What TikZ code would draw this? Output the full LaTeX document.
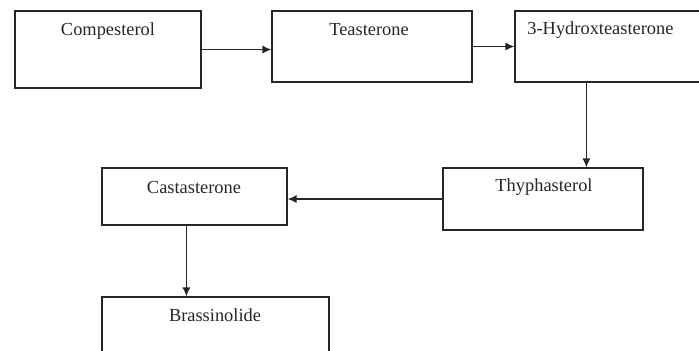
\documentclass[tikz,border=0pt]{standalone}
\usepackage{fontspec}
\setmainfont{Liberation Serif}
\usetikzlibrary{arrows.meta}
\usetikzlibrary{calc}

\tikzset{
  stepbox/.style={draw=black!85,line width=0.6pt,rectangle,inner sep=0pt},
  steptext/.style={font=\fontsize{9.2}{11}\selectfont,text=black!85,inner sep=0pt},
  arr/.style={draw=black!85,line width=0.6pt,-{Latex[length=4.5pt,width=4pt]}}
}

\begin{document}
\begin{tikzpicture}[x=0.5pt,y=-0.5pt]
\useasboundingbox (0,0) rectangle (699,350);
\clip (0,0) rectangle (699,350);

% boxes
\node[stepbox,minimum width=93pt,minimum height=38.5pt] (comp) at (108,49.5) {};
\node[stepbox,minimum width=100pt,minimum height=35.5pt] (teas) at (372,46.5) {};
\node[stepbox,minimum width=102.5pt,minimum height=35.5pt] (hydr) at (617.5,46.5) {};
\node[stepbox,minimum width=100pt,minimum height=31pt] (thyp) at (543,199) {};
\node[stepbox,minimum width=92.5pt,minimum height=28.5pt] (cast) at (194.5,196.5) {};
\node[stepbox,minimum width=113.5pt,minimum height=36.5pt] (bras) at (215.5,333.5) {};

% labels
\node[steptext] (comp-t) at (108,31) {Compesterol};
\node[steptext] (teas-t) at (369,30) {Teasterone};
\node[steptext,anchor=west] (hydr-t) at (527,30) {3-Hydroxteasterone};
\node[steptext] (thyp-t) at (544,187) {Thyphasterol};
\node[steptext] (cast-t) at (194,187) {Castasterone};
\node[steptext] (bras-t) at (215,315) {Brassinolide};

% arrows
\coordinate (hydr-out) at ($(hydr.south west)+(72,0)$);
\coordinate (cast-out) at ($(cast.south west)+(85,0)$);
\draw[arr] (comp.east) -- (comp.east -| teas.west);
\draw[arr] (teas.east) -- (hydr.west);
\draw[arr] (hydr-out) -- (hydr-out |- thyp.north);
\draw[arr] (thyp.west) -- (thyp.west -| cast.east);
\draw[arr] (cast-out) -- (cast-out |- bras.north);

\end{tikzpicture}
\end{document}
